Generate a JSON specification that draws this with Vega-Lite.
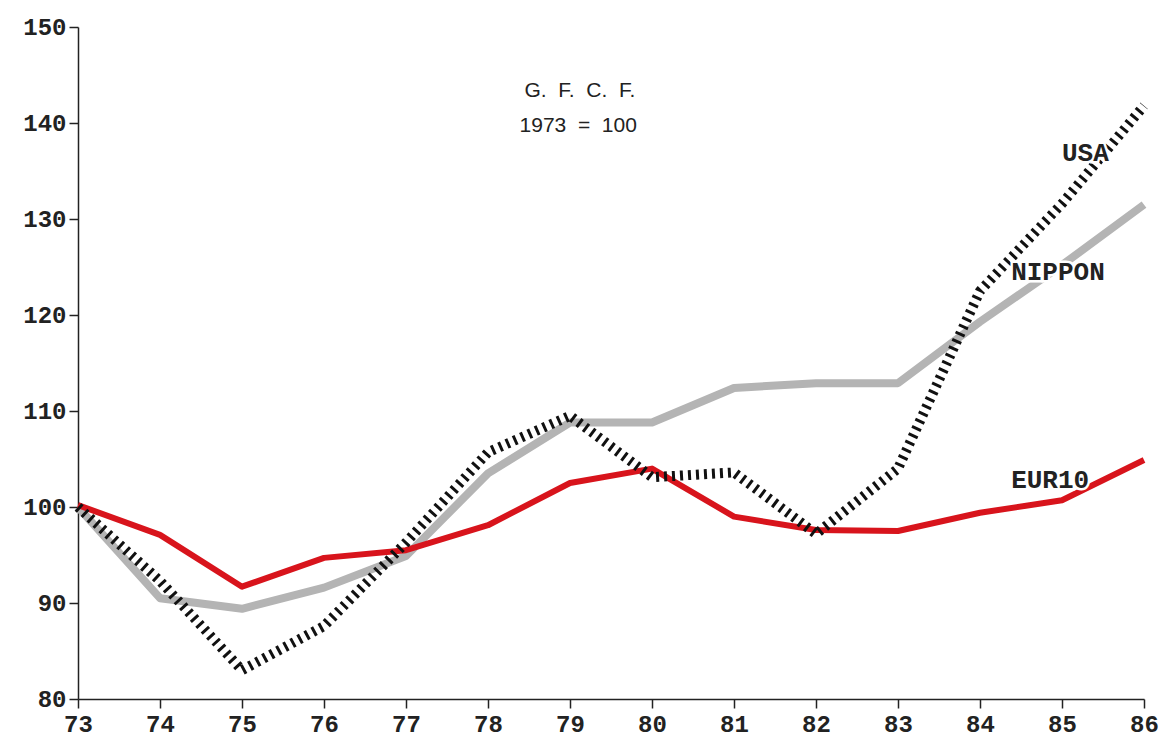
{
  "$schema": "https://vega.github.io/schema/vega-lite/v6.json",
  "width": 1066,
  "height": 672,
  "autosize": {"type": "none"},
  "padding": {"left": 78, "top": 27, "right": 17, "bottom": 41},
  "background": "#ffffff",
  "config": {
    "view": {"stroke": null},
    "axis": {
      "grid": false,
      "domainColor": "#222222",
      "domainWidth": 1.5,
      "tickColor": "#222222",
      "tickWidth": 1.5,
      "tickSize": 9,
      "labelFont": "Liberation Mono",
      "labelFontWeight": "bold",
      "labelFontSize": 24,
      "labelColor": "#222222",
      "title": null
    }
  },
  "datasets": {
    "gfcf": [
      {"year": 73, "series": "USA", "value": 100},
      {"year": 74, "series": "USA", "value": 92.3},
      {"year": 75, "series": "USA", "value": 83},
      {"year": 76, "series": "USA", "value": 87.6},
      {"year": 77, "series": "USA", "value": 96.3},
      {"year": 78, "series": "USA", "value": 105.7},
      {"year": 79, "series": "USA", "value": 109.5},
      {"year": 80, "series": "USA", "value": 103.1},
      {"year": 81, "series": "USA", "value": 103.6},
      {"year": 82, "series": "USA", "value": 97.2},
      {"year": 83, "series": "USA", "value": 104},
      {"year": 84, "series": "USA", "value": 122.5},
      {"year": 85, "series": "USA", "value": 131.6},
      {"year": 86, "series": "USA", "value": 141.8},
      {"year": 73, "series": "NIPPON", "value": 100},
      {"year": 74, "series": "NIPPON", "value": 90.5},
      {"year": 75, "series": "NIPPON", "value": 89.4},
      {"year": 76, "series": "NIPPON", "value": 91.6},
      {"year": 77, "series": "NIPPON", "value": 94.9},
      {"year": 78, "series": "NIPPON", "value": 103.5},
      {"year": 79, "series": "NIPPON", "value": 108.8},
      {"year": 80, "series": "NIPPON", "value": 108.8},
      {"year": 81, "series": "NIPPON", "value": 112.4},
      {"year": 82, "series": "NIPPON", "value": 112.9},
      {"year": 83, "series": "NIPPON", "value": 112.9},
      {"year": 84, "series": "NIPPON", "value": 119.3},
      {"year": 85, "series": "NIPPON", "value": 125.2},
      {"year": 86, "series": "NIPPON", "value": 131.5},
      {"year": 73, "series": "EUR10", "value": 100.2},
      {"year": 74, "series": "EUR10", "value": 97.1},
      {"year": 75, "series": "EUR10", "value": 91.7},
      {"year": 76, "series": "EUR10", "value": 94.7},
      {"year": 77, "series": "EUR10", "value": 95.5},
      {"year": 78, "series": "EUR10", "value": 98.1},
      {"year": 79, "series": "EUR10", "value": 102.5},
      {"year": 80, "series": "EUR10", "value": 104},
      {"year": 81, "series": "EUR10", "value": 99},
      {"year": 82, "series": "EUR10", "value": 97.6},
      {"year": 83, "series": "EUR10", "value": 97.5},
      {"year": 84, "series": "EUR10", "value": 99.4},
      {"year": 85, "series": "EUR10", "value": 100.7},
      {"year": 86, "series": "EUR10", "value": 104.9}
    ],
    "labels": [
      {"year": 85.0, "value": 136.9, "label": "USA", "kind": "series"},
      {"year": 84.38, "value": 124.5, "label": "NIPPON", "kind": "series"},
      {"year": 84.38, "value": 102.8, "label": "EUR10", "kind": "series"},
      {"year": 79.12, "value": 143.3, "label": "G.\u00a0\u00a0F.\u00a0\u00a0C.\u00a0\u00a0F.", "kind": "note"},
      {"year": 79.1, "value": 139.7, "label": "1973\u00a0\u00a0=\u00a0\u00a0100", "kind": "note"}
    ]
  },
  "encoding": {
    "x": {
      "field": "year", "type": "quantitative",
      "scale": {"domain": [73, 86], "nice": false, "zero": false},
      "axis": {"values": [73, 74, 75, 76, 77, 78, 79, 80, 81, 82, 83, 84, 85, 86], "labelPadding": 4, "labelFlush": false}
    },
    "y": {
      "field": "value", "type": "quantitative",
      "scale": {"domain": [80, 150], "nice": false, "zero": false},
      "axis": {"values": [80, 90, 100, 110, 120, 130, 140, 150], "labelPadding": 3}
    }
  },
  "layer": [
    {
      "data": {"name": "gfcf"},
      "transform": [{"filter": "datum.series === 'NIPPON'"}],
      "mark": {"type": "line", "color": "#b4b4b4", "strokeWidth": 8, "strokeJoin": "round"}
    },
    {
      "data": {"name": "gfcf"},
      "transform": [{"filter": "datum.series === 'EUR10'"}],
      "mark": {"type": "line", "color": "#d8141c", "strokeWidth": 6, "strokeJoin": "round"}
    },
    {
      "data": {"name": "gfcf"},
      "transform": [{"filter": "datum.series === 'USA'"}],
      "mark": {"type": "line", "color": "#111111", "strokeWidth": 10, "strokeDash": [3, 5], "strokeJoin": "miter"}
    },
    {
      "data": {"name": "labels"},
      "transform": [{"filter": "datum.kind === 'series'"}],
      "mark": {"type": "text", "align": "left", "baseline": "middle", "font": "Liberation Mono", "fontWeight": "bold", "fontSize": 26, "color": "#ffffff", "stroke": "#ffffff", "strokeWidth": 5},
      "encoding": {"text": {"field": "label"}}
    },
    {
      "data": {"name": "labels"},
      "transform": [{"filter": "datum.kind === 'series'"}],
      "mark": {"type": "text", "align": "left", "baseline": "middle", "font": "Liberation Mono", "fontWeight": "bold", "fontSize": 26, "color": "#222222"},
      "encoding": {"text": {"field": "label"}}
    },
    {
      "data": {"name": "labels"},
      "transform": [{"filter": "datum.kind === 'note'"}],
      "mark": {"type": "text", "align": "center", "baseline": "middle", "font": "Liberation Sans", "fontSize": 21, "color": "#222222"},
      "encoding": {"text": {"field": "label"}}
    }
  ]
}
